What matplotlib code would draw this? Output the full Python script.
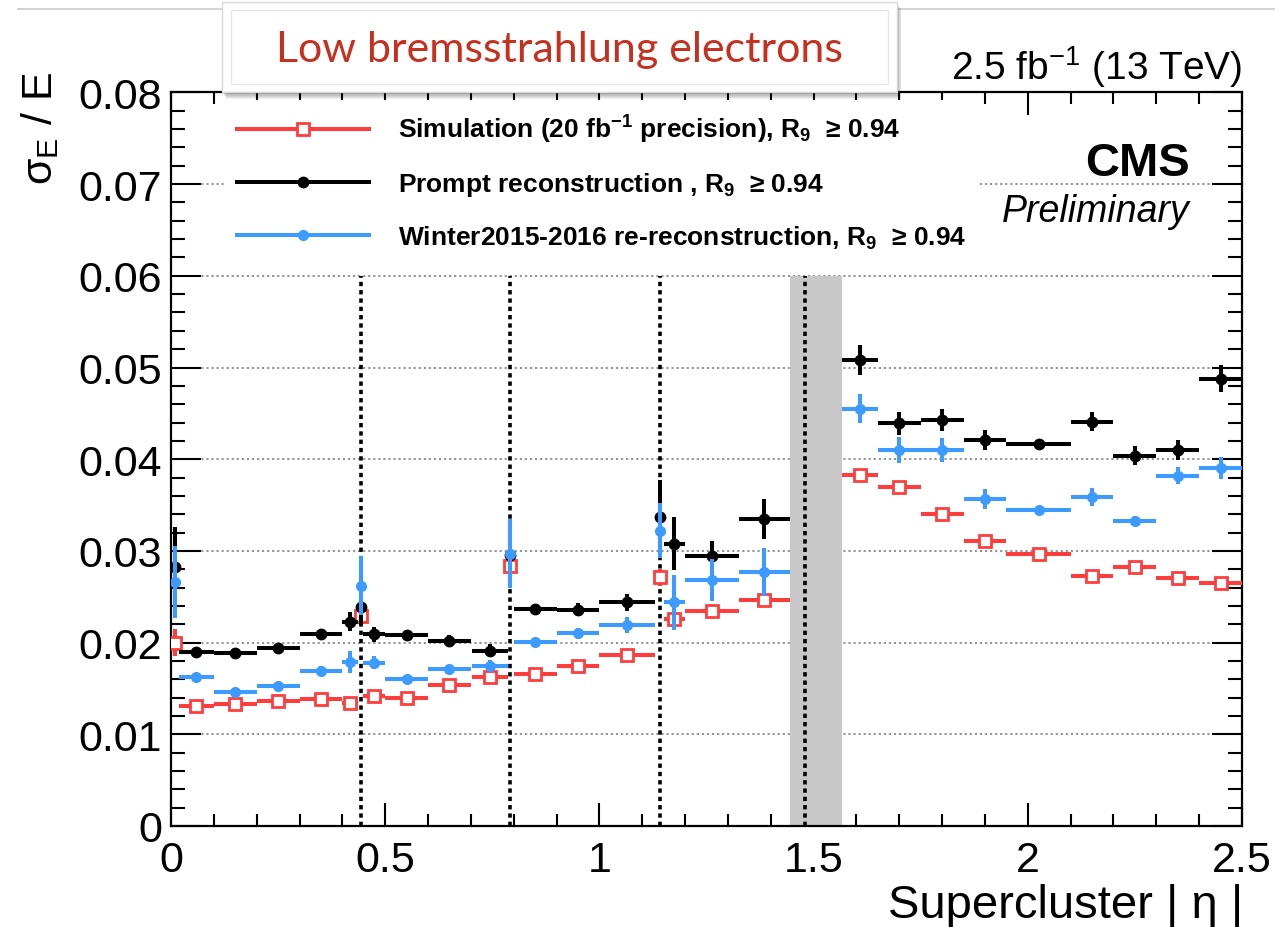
import matplotlib
matplotlib.use("Agg")
import matplotlib.pyplot as plt
from matplotlib.lines import Line2D
from matplotlib.patches import Rectangle
from matplotlib.ticker import MultipleLocator, FuncFormatter

plt.rcParams.update({
    "font.family": ["Liberation Sans", "DejaVu Sans"],
    "mathtext.fontset": "custom",
    "mathtext.rm": "Liberation Sans",
    "mathtext.it": "Liberation Sans:italic",
    "mathtext.bf": "Liberation Sans:bold",
    "mathtext.default": "regular",
})

# |eta| bins (centre, half width); barrel crack bins are the narrow ones
eta_center = [0.009, 0.059, 0.15, 0.25, 0.35, 0.418, 0.4442, 0.474, 0.55, 0.65,
              0.745, 0.7915, 0.85, 0.95, 1.065, 1.1426, 1.175, 1.2625, 1.385,
              1.608, 1.70, 1.80, 1.90, 2.025, 2.15, 2.25, 2.35, 2.45]
eta_halfwidth = [0.009, 0.041, 0.05, 0.05, 0.05, 0.018, 0.006, 0.026, 0.05, 0.05,
                 0.0425, 0.005, 0.05, 0.05, 0.065, 0.006, 0.025, 0.0625, 0.06,
                 0.042, 0.05, 0.05, 0.05, 0.075, 0.05, 0.05, 0.05, 0.05]

# Simulation (20 fb-1 precision)
sigma_sim = [0.0200, 0.0131, 0.0133, 0.0136, 0.0139, 0.0134, 0.0229, 0.0142, 0.0140, 0.0154,
             0.0163, 0.0284, 0.0166, 0.0174, 0.0186, 0.0271, 0.0226, 0.0235, 0.0246,
             0.0383, 0.0370, 0.0340, 0.0311, 0.0297, 0.0273, 0.0282, 0.0270, 0.0265]
sigma_sim_err = [0.0015, 0.0003, 0.0003, 0.0003, 0.0003, 0.0004, 0.0010, 0.0004, 0.0003, 0.0003,
                 0.0003, 0.0008, 0.0003, 0.0003, 0.0003, 0.0009, 0.0008, 0.0004, 0.0004,
                 0.0004, 0.0004, 0.0004, 0.0004, 0.0003, 0.0004, 0.0004, 0.0004, 0.0004]

# Prompt reconstruction
sigma_prompt = [0.0282, 0.0190, 0.0189, 0.0194, 0.0209, 0.0223, 0.0239, 0.0209, 0.0208, 0.0202,
                0.0191, 0.0295, 0.0237, 0.0236, 0.0244, 0.0337, 0.0308, 0.0294, 0.0335,
                0.0508, 0.0439, 0.0443, 0.0421, 0.0417, 0.0441, 0.0404, 0.0410, 0.0488]
sigma_prompt_err = [0.0044, 0.0004, 0.0004, 0.0004, 0.0005, 0.0010, 0.0020, 0.0008, 0.0006, 0.0006,
                    0.0007, 0.0030, 0.0005, 0.0007, 0.0009, 0.0040, 0.0029, 0.0017, 0.0022,
                    0.0016, 0.0013, 0.0012, 0.0011, 0.0004, 0.0010, 0.0010, 0.0011, 0.0015]

# Winter2015-2016 re-reconstruction
sigma_rereco = [0.0266, 0.0163, 0.0146, 0.0153, 0.0169, 0.0179, 0.0262, 0.0178, 0.0160, 0.0171,
                0.0175, 0.0297, 0.0201, 0.0210, 0.0219, 0.0322, 0.0244, 0.0268, 0.0277,
                0.0455, 0.0410, 0.0410, 0.0357, 0.0345, 0.0359, 0.0333, 0.0382, 0.0390]
sigma_rereco_err = [0.0039, 0.0004, 0.0004, 0.0004, 0.0005, 0.0012, 0.0032, 0.0007, 0.0005, 0.0005,
                    0.0006, 0.0038, 0.0004, 0.0006, 0.0009, 0.0030, 0.0030, 0.0023, 0.0026,
                    0.0016, 0.0014, 0.0013, 0.0011, 0.0004, 0.0010, 0.0005, 0.0009, 0.0012]

module_boundaries = [0.4442, 0.7915, 1.1426, 1.479]
eb_ee_gap = (1.4442, 1.566)

legend_labels = [
    "Simulation (20 fb$^{-1}$ precision), R$_{9}$  \u2265 0.94",
    "Prompt reconstruction , R$_{9}$  \u2265 0.94",
    "Winter2015-2016 re-reconstruction, R$_{9}$  \u2265 0.94",
]

RED = "#ff3d3d"
BLUE = "#3d9bff"
BLACK = "#000000"

W, H = 1275, 928
fig = plt.figure(figsize=(W / 100, H / 100), dpi=100)
ax = fig.add_axes([171 / W, 1 - 827 / H, 1071 / W, 733.6 / H])

ax.set_xlim(0, 2.5)
ax.set_ylim(0, 0.08)

# EB/EE transition and module boundaries
ax.axvspan(eb_ee_gap[0], eb_ee_gap[1], ymin=0, ymax=0.06 / 0.08,
           color="#c8c8c8", lw=0, zorder=1)
ax.vlines(module_boundaries, 0, 0.06, colors="black", lw=2.6,
          linestyles=(0, (1.2, 1.1)), zorder=2)

ax.grid(axis="y", which="major", color="#8a8a8a", lw=1.3, linestyle=(0, (1.2, 1.6)), zorder=0)
ax.set_axisbelow(True)

ebar_kw = dict(ls="none", elinewidth=2.9, capsize=0)
ax.errorbar(eta_center, sigma_sim, yerr=sigma_sim_err, xerr=eta_halfwidth,
            color=RED, marker="s", ms=9, mfc="white", mec=RED, mew=2.0,
            zorder=4, **ebar_kw)
ax.errorbar(eta_center, sigma_prompt, yerr=sigma_prompt_err, xerr=eta_halfwidth,
            color=BLACK, marker="o", ms=7.5, mfc=BLACK, mec=BLACK,
            zorder=5, **ebar_kw)
ax.errorbar(eta_center, sigma_rereco, yerr=sigma_rereco_err, xerr=eta_halfwidth,
            color=BLUE, marker="o", ms=7.0, mfc=BLUE, mec=BLUE,
            zorder=6, **ebar_kw)

# ROOT-style axes
ax.xaxis.set_major_locator(MultipleLocator(0.5))
ax.xaxis.set_minor_locator(MultipleLocator(0.1))
ax.yaxis.set_major_locator(MultipleLocator(0.01))
ax.yaxis.set_minor_locator(MultipleLocator(0.002))
fmt = FuncFormatter(lambda v, p: "%g" % round(v, 4))
ax.xaxis.set_major_formatter(fmt)
ax.yaxis.set_major_formatter(fmt)
ax.tick_params(which="both", direction="in", top=True, right=True, width=1.5,
               labelsize=31, color="black")
ax.xaxis.set_tick_params(which="major", length=16.5, pad=10)
ax.xaxis.set_tick_params(which="minor", length=8.5)
ax.yaxis.set_tick_params(which="major", length=21.5, pad=6.5)
ax.yaxis.set_tick_params(which="minor", length=10)
for sp in ax.spines.values():
    sp.set_linewidth(1.6)

fig.text(1243 / W, 1 - 918 / H, "Supercluster | \u03b7 |", fontsize=34,
         ha="right", va="baseline")
fig.text(40 / W, 1 - 72 / H, "\u03c3$_{E}$ / E", fontsize=31, rotation=90,
         ha="center", va="top")

# legend
handles = [
    Line2D([], [], color=RED, lw=2.9, marker="s", ms=9, mfc="white", mec=RED, mew=2.0),
    Line2D([], [], color=BLACK, lw=2.9, marker="o", ms=7.5),
    Line2D([], [], color=BLUE, lw=2.9, marker="o", ms=7.0),
]
leg = ax.legend(handles, legend_labels, loc="center left",
                bbox_to_anchor=(224 / W, 1 - 183 / H), bbox_transform=fig.transFigure,
                prop={"size": 19, "weight": "bold"}, handlelength=5.0,
                handletextpad=1.1, labelspacing=0.95, borderpad=0.5,
                borderaxespad=0, frameon=True, fancybox=False)
leg.get_frame().set_facecolor("white")
leg.get_frame().set_edgecolor("none")
leg.get_frame().set_alpha(1)
leg.set_zorder(7)

ax.text((1190 - 171) / 1071, (827 - 176) / 733.6, "CMS", transform=ax.transAxes,
        ha="right", va="baseline", fontsize=34, fontweight="bold")
ax.text((1190 - 171) / 1071, (827 - 222) / 733.6, "Preliminary", transform=ax.transAxes,
        ha="right", va="baseline", fontsize=27, fontstyle="italic")
ax.text(1.0, (827 - 80) / 733.6, "2.5 fb$^{-1}$ (13 TeV)", transform=ax.transAxes,
        ha="right", va="baseline", fontsize=28)

# slide frame line and caption box
fig.add_artist(Line2D([18 / W, 1.0], [1 - 10 / H, 1 - 10 / H], color="#cccccc", lw=1.2,
                      transform=fig.transFigure, zorder=8))
bx0, bx1, by0, by1 = 222, 897, 3, 93
for i in range(1, 8):
    fig.add_artist(Rectangle(((bx0 + i * 0.6) / W, 1 - (by1 + i) / H),
                             (bx1 - bx0) / W, (by1 - by0) / H,
                             transform=fig.transFigure, facecolor="black",
                             edgecolor="none", alpha=0.06, zorder=9))
fig.add_artist(Rectangle((bx0 / W, 1 - by1 / H), (bx1 - bx0) / W, (by1 - by0) / H,
                         transform=fig.transFigure, facecolor="white",
                         edgecolor="#d8d8d8", lw=1.0, zorder=10))
fig.add_artist(Rectangle(((bx0 + 9) / W, 1 - (by1 - 8) / H), (bx1 - bx0 - 18) / W,
                         (by1 - by0 - 16) / H, transform=fig.transFigure,
                         facecolor="none", edgecolor="#e6e6e6", lw=1.0, zorder=11))
fig.text((bx0 + bx1) / 2 / W, 1 - 50 / H, "Low bremsstrahlung electrons",
         family=["Lato", "DejaVu Sans"], fontsize=31, color="#c5301f",
         ha="center", va="center", zorder=12)

fig.savefig("out.png", dpi=100)
